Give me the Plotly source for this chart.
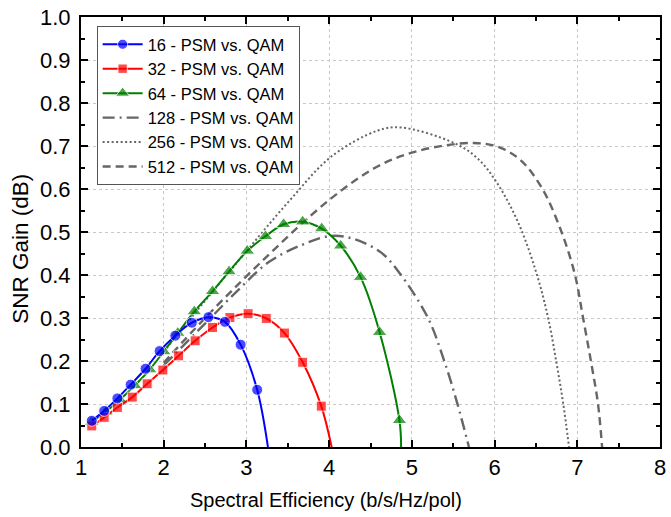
import plotly.graph_objects as go

# ---- data ----
se16 = [1.13, 1.28, 1.44, 1.60, 1.78, 1.95, 2.14, 2.34, 2.54, 2.74, 2.93, 3.13, 3.26]
g16 = [0.061, 0.084, 0.113, 0.145, 0.182, 0.223, 0.259, 0.289, 0.302, 0.291, 0.238, 0.133, 0.0]

se32 = [1.13, 1.28, 1.44, 1.62, 1.80, 1.99, 2.18, 2.38, 2.59, 2.80, 3.02, 3.24, 3.46, 3.68, 3.905, 4.03]
g32 = [0.049, 0.069, 0.092, 0.116, 0.147, 0.179, 0.212, 0.247, 0.278, 0.301, 0.310, 0.299, 0.265, 0.197, 0.095, 0.0]

se64 = [1.13, 1.30, 1.47, 1.65, 1.83, 2.00, 2.17, 2.37, 2.59, 2.79, 3.01, 3.23, 3.45, 3.68, 3.91, 4.14, 4.38, 4.61, 4.85, 4.87]
g64 = [0.058, 0.082, 0.110, 0.143, 0.180, 0.222, 0.265, 0.315, 0.362, 0.408, 0.456, 0.490, 0.518, 0.524, 0.508, 0.468, 0.395, 0.267, 0.062, 0.0]

se128 = [2.00, 2.50, 2.90, 3.27, 3.67, 4.03, 4.31, 4.63, 4.83, 5.19, 5.39, 5.55, 5.69]
g128 = [0.190, 0.287, 0.365, 0.430, 0.470, 0.491, 0.483, 0.452, 0.410, 0.302, 0.201, 0.101, 0.0]

se256 = [2.00, 2.50, 3.03, 3.53, 4.03, 4.59, 4.87, 5.51, 5.79, 6.03, 6.29, 6.51, 6.65, 6.75, 6.83, 6.90]
g256 = [0.222, 0.340, 0.462, 0.575, 0.676, 0.736, 0.743, 0.707, 0.672, 0.614, 0.520, 0.402, 0.298, 0.194, 0.101, 0.0]

se512 = [2.00, 2.50, 3.15, 4.01, 4.59, 4.99, 5.39, 5.75, 6.03, 6.31, 6.57, 6.79, 6.97, 7.07, 7.17, 7.25, 7.30]
g512 = [0.196, 0.300, 0.425, 0.576, 0.653, 0.684, 0.701, 0.707, 0.699, 0.668, 0.603, 0.510, 0.402, 0.300, 0.194, 0.101, 0.0]

names = ["16 - PSM vs. QAM", "32 - PSM vs. QAM", "64 - PSM vs. QAM",
         "128 - PSM vs. QAM", "256 - PSM vs. QAM", "512 - PSM vs. QAM"]
x_title = "Spectral Efficiency (b/s/Hz/pol)"
y_title = "SNR Gain (dB)"

FONT = "Liberation Sans, Arial, sans-serif"
GRAY = "#666666"

fig = go.Figure()

# gray reference curves (drawn first, underneath)
fig.add_trace(go.Scatter(x=se512, y=g512, mode="lines", name=names[5], legendrank=6,
                         line=dict(color=GRAY, width=2.4, dash="8px,5px", shape="spline")))
fig.add_trace(go.Scatter(x=se256, y=g256, mode="lines", name=names[4], legendrank=5,
                         line=dict(color=GRAY, width=2, dash="2px,2.5px", shape="spline")))
fig.add_trace(go.Scatter(x=se128, y=g128, mode="lines", name=names[3], legendrank=4,
                         line=dict(color=GRAY, width=2.4, dash="12px,5px,2px,5px", shape="spline")))

def msizes(n, s):
    return [s] * (n - 1) + [0]

fig.add_trace(go.Scatter(x=se64, y=g64, mode="lines+markers", name=names[2], legendrank=3,
                         line=dict(color="#008000", width=2, shape="spline"),
                         marker=dict(symbol="triangle-up", size=msizes(len(se64), 13), color="#008000")))
fig.add_trace(go.Scatter(x=se32, y=g32, mode="lines+markers", name=names[1], legendrank=2,
                         line=dict(color="#FF0000", width=2, shape="spline"),
                         marker=dict(symbol="square", size=msizes(len(se32), 10), color="#FF0000")))
fig.add_trace(go.Scatter(x=se16, y=g16, mode="lines+markers", name=names[0], legendrank=1,
                         line=dict(color="#0000FF", width=2, shape="spline"),
                         marker=dict(symbol="circle", size=msizes(len(se16), 11), color="#0000FF")))

axis_common = dict(
    showline=True, linecolor="black", linewidth=2, mirror="ticks",
    ticks="inside", ticklen=7, tickwidth=1.5, tickcolor="black",
    showgrid=True, gridcolor="#c8c8c8", griddash="dot", gridwidth=1,
    zeroline=False,
    tickfont=dict(family=FONT, size=22, color="black"),
)

fig.update_xaxes(range=[1, 8], dtick=1, tick0=1,
                 minor=dict(ticks="inside", ticklen=4, tickwidth=1.5, tickcolor="black", dtick=0.5, showgrid=False),
                 **axis_common)
fig.update_yaxes(range=[0, 1.0], dtick=0.1, tick0=0, tickformat=".1f",
                 minor=dict(ticks="inside", ticklen=4, tickwidth=1.5, tickcolor="black", dtick=0.05, showgrid=False),
                 ticklabelstandoff=4,
                 **axis_common)

# axis titles (placed as in the reference, slightly off-centre)
fig.add_annotation(text=x_title, xref="paper", yref="paper", x=0.424, y=-0.1227,
                   xanchor="center", yanchor="middle", showarrow=False,
                   font=dict(family=FONT, size=20, color="black"))
fig.add_annotation(text=y_title, xref="paper", yref="paper", x=-0.104, y=0.4606,
                   xanchor="center", yanchor="middle", showarrow=False, textangle=-90,
                   font=dict(family=FONT, size=22.5, color="black"))

fig.update_layout(
    width=671, height=517,
    margin=dict(l=81, r=5, t=15, b=70),
    plot_bgcolor="white", paper_bgcolor="white",
    showlegend=True,
    legend=dict(x=0.027, y=0.979, xanchor="left", yanchor="top",
                bgcolor="white", bordercolor="#555555", borderwidth=1,
                font=dict(family=FONT, size=16.5, color="black"),
                tracegroupgap=0, itemwidth=40),
)

fig.write_html("out.html")
